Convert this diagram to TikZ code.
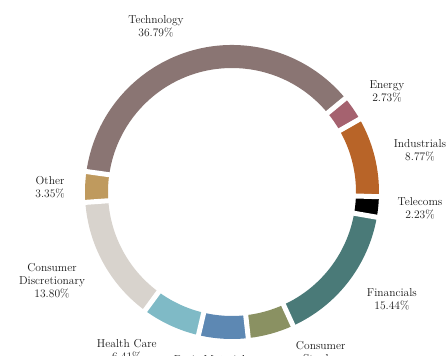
\documentclass[tikz,border=0pt]{standalone}
\usepackage{tikz}
\usetikzlibrary{positioning}

\definecolor{techcol}{HTML}{8A7573}
\definecolor{energycol}{HTML}{A5626F}
\definecolor{induscol}{HTML}{B86428}
\definecolor{telecol}{HTML}{000000}
\definecolor{fincol}{HTML}{4A7A78}
\definecolor{staplecol}{HTML}{8A9162}
\definecolor{basiccol}{HTML}{5D88B3}
\definecolor{healthcol}{HTML}{7FBAC6}
\definecolor{discrcol}{HTML}{D8D3CD}
\definecolor{othercol}{HTML}{BF9A5E}

\tikzset{
    sectorlabel/.style={align=center, font=\fontsize{11.5}{13}\selectfont, text=black!90, inner sep=0pt},
    gapline/.style={white, line width=5pt}
}

\begin{document}
\begin{tikzpicture}[x=1pt, y=1pt]
    \useasboundingbox (0,0) rectangle (448,356);
    \clip (0,0) rectangle (448,356);

    \begin{scope}[shift={(232,164)}]
    % Ring segments
    \foreach \a/\b/\col in {172/39.55/techcol, 39.55/29.72/energycol, 29.72/-1.85/induscol,
        -1.85/-9.88/telecol, -9.88/-65.46/fincol, -65.46/-83.64/staplecol,
        -83.64/-103.19/basiccol, -103.19/-126.27/healthcol, -126.27/-175.95/discrcol,
        -175.95/-188/othercol} {
        \fill[\col] (\a:147) arc[start angle=\a, end angle=\b, radius=147]
            -- (\b:124) arc[start angle=\b, end angle=\a, radius=124] -- cycle;
    }

    % Gaps
    \foreach \a in {172, 39.55, 29.72, -1.85, -9.88, -65.46, -83.64, -103.19, -126.27, -175.95} {
        \draw[gapline] (\a:120) -- (\a:151);
    }

    % Labels
    \node[sectorlabel] (tech) at (114.6:182.6) {Technology\\36.79\%};
    \node[sectorlabel] (energy) at (33.1:185) {Energy\\2.73\%};
    \node[sectorlabel] (indus) at (12.6:192.6) {Industrials\\8.77\%};
    \node[sectorlabel] (tele) at (-4.9:188.7) {Telecoms\\2.23\%};
    \node[sectorlabel] (fin) at (-33.8:192.5) {Financials\\15.44\%};
    \node[sectorlabel] (staple) at (-62:189) {Consumer\\Staples\\5.05\%};
    \node[sectorlabel] (basic) at (-96.6:176) {Basic Materials\\5.43\%};
    \node[sectorlabel] (health) at (-123.6:190) {Health Care\\6.41\%};
    \node[sectorlabel] (discr) at (-153.7:200.8) {Consumer\\Discretionary\\13.80\%};
    \node[sectorlabel] (other) at (178.4:182) {Other\\3.35\%};
    \end{scope}
\end{tikzpicture}
\end{document}
